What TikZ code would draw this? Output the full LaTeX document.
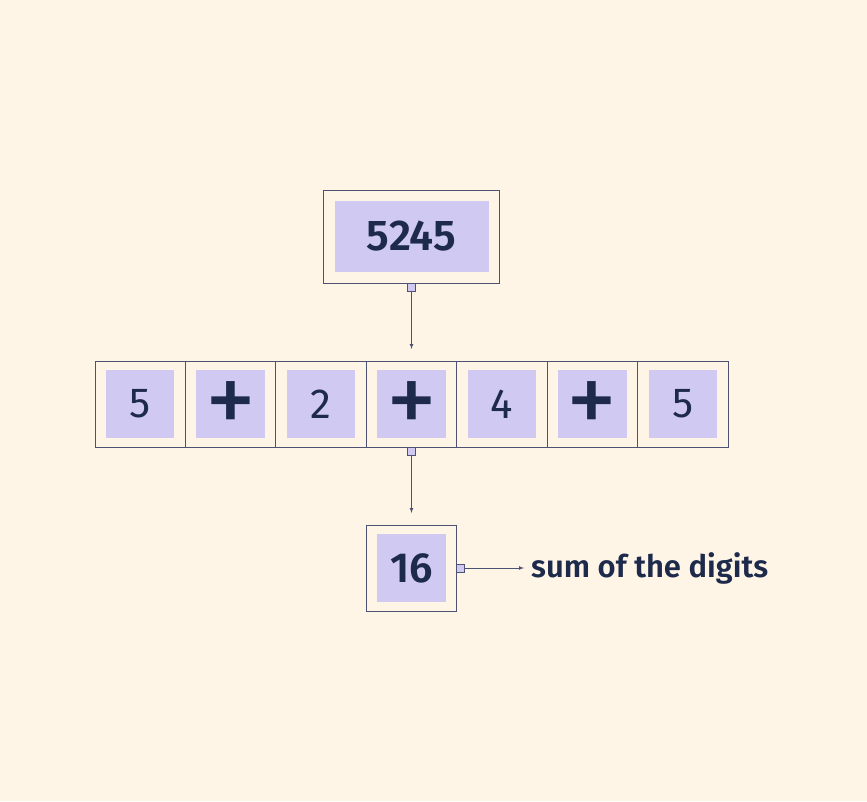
\documentclass[tikz,border=0pt]{standalone}
\usepackage{fontspec}
\setmainfont{Fira Sans}[BoldFont={Fira Sans SemiBold}]
\usepackage{tikz}
\usetikzlibrary{positioning}
\definecolor{paper}{HTML}{FEF5E7}
\definecolor{lav}{HTML}{D0C9F2}
\definecolor{edge}{HTML}{4D5272}
\definecolor{ink}{HTML}{1E2A4B}
\newcommand{\plussign}{\smash{\raisebox{-4pt}{+}}\vphantom{+}}

\begin{document}
\begin{tikzpicture}[x=1pt,y=1pt]
      \tikzstyle{box}=[rectangle,draw=edge,line width=0.8pt,fill=paper,text=ink,inner sep=0pt,outer sep=0pt,
        path picture={\fill[lav] ([shift={(11pt,9pt)}]path picture bounding box.south west) rectangle ([shift={(-11pt,-9pt)}]path picture bounding box.north east);}]
      \tikzstyle{bigbox}=[box,minimum width=176pt,minimum height=93pt,
        path picture={\fill[lav] ([shift={(11pt,11pt)}]path picture bounding box.south west) rectangle ([shift={(-11pt,-11pt)}]path picture bounding box.north east);}]
      \tikzstyle{cell}=[box,minimum width=90.43pt,minimum height=86pt,font=\fontsize{42}{42}\selectfont]
      \tikzstyle{pluscell}=[cell,font=\fontsize{102}{102}\selectfont]
      \tikzstyle{port}=[rectangle,draw=edge,fill=lav,line width=0.6pt,minimum size=8pt,inner sep=0pt,outer sep=0pt]
      \tikzstyle{link}=[->,>=latex,draw=edge,line width=0.7pt]
      \fill[paper] (0,0) rectangle (867,801);
      \useasboundingbox (0,0) rectangle (867,801);
      \node[bigbox,font=\fontsize{43}{43}\selectfont\bfseries] (num) at (411.5,564.5) {5245};
      \node[pluscell] (c4) at (411.5,397) {\plussign};
      \node[cell,left=0pt of c4] (c3) {2};
      \node[pluscell,left=0pt of c3] (c2) {\plussign};
      \node[cell,left=0pt of c2] (c1) {5};
      \node[cell,right=0pt of c4] (c5) {4};
      \node[pluscell,right=0pt of c5] (c6) {\plussign};
      \node[cell,right=0pt of c6] (c7) {5};
      \node[cell,font=\fontsize{42}{42}\selectfont\bfseries] (sum) at (411.5,233) {16};
      \node[port,anchor=north] (p1) at (num.south) {};
      \node[port,anchor=north] (p2) at (c4.south) {};
      \node[port,anchor=west] (p3) at (sum.east) {};
      \node[anchor=base west,inner sep=0pt,text=ink,font=\fontsize{31}{31}\selectfont\bfseries] (lbl) at (531,224) {sum of the digits};
      \draw[link,shorten >=12pt] (p1) -- (c4);
      \draw[link,shorten >=12pt] (p2) -- (sum);
      \draw[link,shorten >=7pt] (p3) -- (p3 -| lbl.west);
\end{tikzpicture}
\end{document}
